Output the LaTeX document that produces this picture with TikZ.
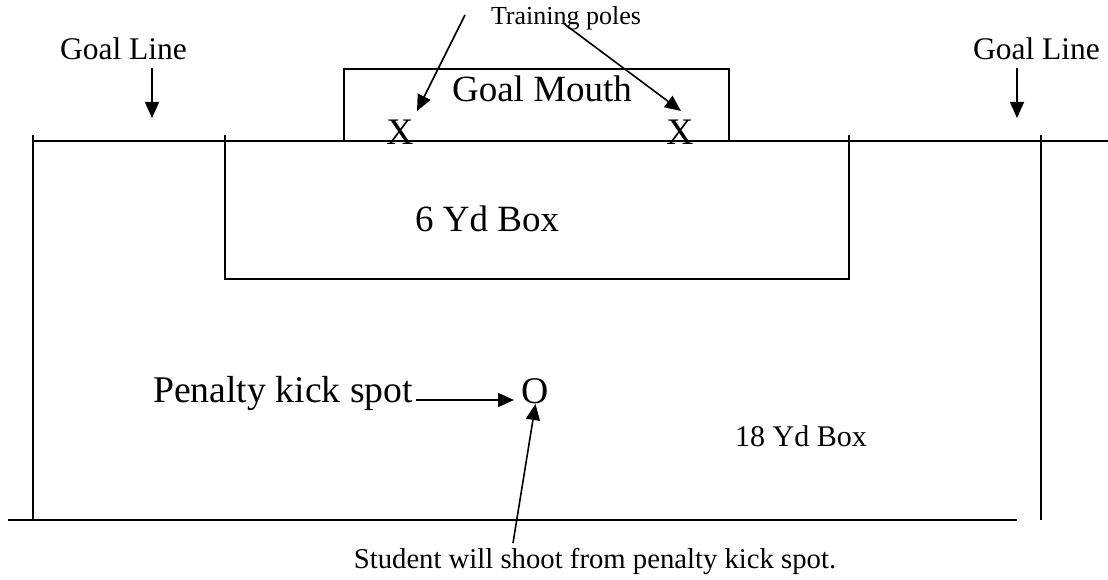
\documentclass[tikz,border=0pt]{standalone}
\usepackage{fontspec}
\setmainfont{Liberation Serif}
\usetikzlibrary{arrows.meta}
\tikzset{
  px/.style={x=1pt,y=-1pt},
  field/.style={line width=1.6pt,line cap=butt},
  ptr/.style={line width=1.6pt,-{Triangle[length=16pt,width=14pt]}},
  lbl/.style={inner sep=0pt,anchor=base},
  lblw/.style={inner sep=0pt,anchor=base west},
}
\begin{document}
\begin{tikzpicture}[px]
\useasboundingbox (0,0) rectangle (1108,580);
% field lines
\draw[field] (33,141) -- (1108,141);
\draw[field] (33,135) -- (33,520);
\draw[field] (1041,135) -- (1041,520);
\draw[field] (8,520) -- (1017,520);
% goal mouth
\draw[field] (344,141) -- (344,69) -- (729,69) -- (729,141);
% six yard box
\draw[field,line width=1.8pt] (225,135) -- (225,279) -- (849,279) -- (849,135);
% labels
\node[lbl,font=\fontsize{31.5}{36}\selectfont] (gl1) at (123.5,60) {Goal Line};
\node[lbl,font=\fontsize{31.5}{36}\selectfont] (gl2) at (1036.5,60) {Goal Line};
\node[lbl,font=\fontsize{37}{42}\selectfont] (gm) at (542,102) {Goal Mouth};
\node[lbl,font=\fontsize{26}{30}\selectfont] (tp) at (566,25) {Training poles};
\node[lbl,font=\fontsize{37.5}{42}\selectfont] (x1) at (400,145) {X};
\node[lbl,font=\fontsize{37.5}{42}\selectfont] (x2) at (680,145) {X};
\node[lblw,font=\fontsize{37}{42}\selectfont] (six) at (415,231) {6 Yd Box};
\node[lblw,font=\fontsize{37.7}{42}\selectfont] (pks) at (153,402) {Penalty kick spot};
\node[lbl,font=\fontsize{37.7}{42}\selectfont] (o) at (535.5,403) {O};
\node[lblw,font=\fontsize{30}{35}\selectfont] (eighteen) at (735,446) {18 Yd Box};
\node[lbl,font=\fontsize{28.7}{34}\selectfont] (stu) at (595,568) {Student will shoot from penalty kick spot.};
% arrow end points
\coordinate (gl1s) at (152,68);
\coordinate (gl1e) at (152,118);
\coordinate (gl2s) at (1017,68);
\coordinate (gl2e) at (1017,118);
\coordinate (tp1s) at (465,15);
\coordinate (tp1e) at (417,111);
\coordinate (tp2s) at (563,23);
\coordinate (tp2e) at (681,111);
\coordinate (pkss) at (416,400);
\coordinate (pkse) at (514,400);
\coordinate (stus) at (513,543);
\coordinate (stue) at (535.5,404);
% arrows
\draw[ptr] (gl1s) -- (gl1e);
\draw[ptr] (gl2s) -- (gl2e);
\draw[ptr] (tp1s) -- (tp1e);
\draw[ptr] (tp2s) -- (tp2e);
\draw[ptr] (pkss) -- (pkse);
\draw[ptr] (stus) -- (stue);
\end{tikzpicture}
\end{document}
